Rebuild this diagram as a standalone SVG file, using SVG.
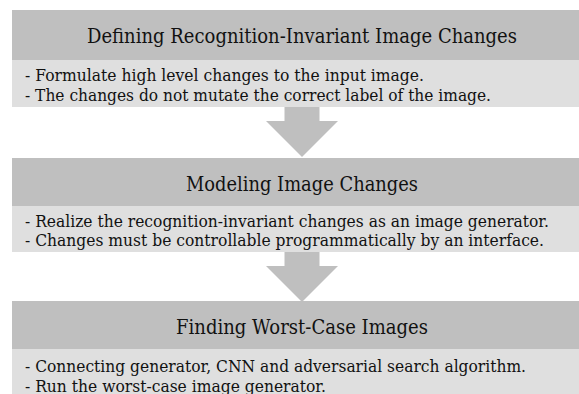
<svg xmlns="http://www.w3.org/2000/svg" width="579" height="394" viewBox="0 0 579 394">
<style>
.hd{fill:#bfbfbf}
.bd{fill:#dfdfdf}
.ar{fill:#bfbfbf}
text{fill:#111;font-family:'DejaVu Serif',serif}
.t{font-size:19.5px;text-anchor:middle}
.b{font-size:16.5px}
</style>
<rect width="579" height="394" fill="#fff"/>
<g id="step1">
<rect class="hd" x="12" y="10" width="567" height="50"/>
<rect class="bd" x="12" y="60" width="567" height="47"/>
<text class="t" x="302" y="43" textLength="430" lengthAdjust="spacingAndGlyphs">Defining Recognition-Invariant Image Changes</text>
<text class="b" x="25" y="80.7" textLength="399" lengthAdjust="spacingAndGlyphs">- Formulate high level changes to the input image.</text>
<text class="b" x="25" y="100.7" textLength="466" lengthAdjust="spacingAndGlyphs">- The changes do not mutate the correct label of the image.</text>
</g>
<g id="step2">
<rect class="hd" x="12" y="158" width="567" height="48"/>
<rect class="bd" x="12" y="206" width="567" height="46"/>
<text class="t" x="302" y="191" textLength="232" lengthAdjust="spacingAndGlyphs">Modeling Image Changes</text>
<text class="b" x="25" y="226.5" textLength="524" lengthAdjust="spacingAndGlyphs">- Realize the recognition-invariant changes as an image generator.</text>
<text class="b" x="25" y="246" textLength="519" lengthAdjust="spacingAndGlyphs">- Changes must be controllable programmatically by an interface.</text>
</g>
<g id="step3">
<rect class="hd" x="12" y="301" width="567" height="48"/>
<rect class="bd" x="12" y="349" width="567" height="45"/>
<text class="t" x="302" y="334" textLength="252" lengthAdjust="spacingAndGlyphs">Finding Worst-Case Images</text>
<text class="b" x="25" y="372" textLength="501" lengthAdjust="spacingAndGlyphs">- Connecting generator, CNN and adversarial search algorithm.</text>
<text class="b" x="25" y="392" textLength="301" lengthAdjust="spacingAndGlyphs">- Run the worst-case image generator.</text>
</g>
<g id="connectors">
<polygon class="ar" points="284.5,107 319.5,107 319.5,121 338,121 302,157 266,121 284.5,121"/>
<polygon class="ar" points="284.5,252 319.5,252 319.5,266 338,266 302,302 266,266 284.5,266"/>
</g>
</svg>
